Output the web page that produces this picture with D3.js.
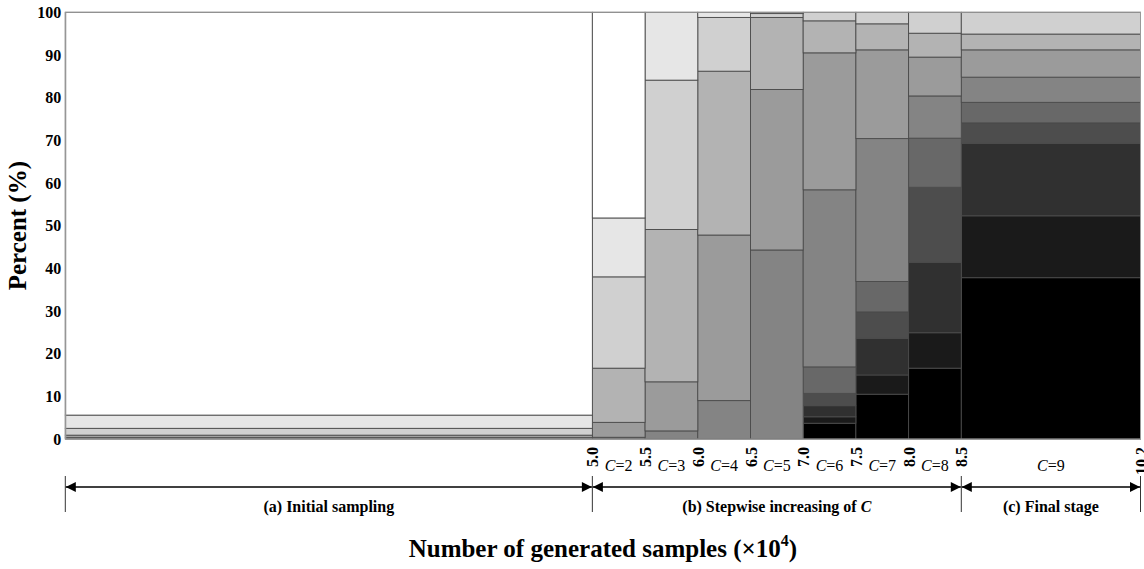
<!DOCTYPE html>
<html>
<head>
<meta charset="utf-8">
<script src="https://cdn.jsdelivr.net/npm/d3@7"></script>
<style>
  body { margin: 0; background: #fff; }
  text { font-family: "Liberation Serif", "Times New Roman", serif; }
</style>
</head>
<body>
<svg id="chart" width="1144" height="569"></svg>
<script>
// bins along x (in 10^4 generated samples)
const binStart = [0, 5.0, 5.5, 6.0, 6.5, 7.0, 7.5, 8.0, 8.5];
const binEnd   = [5.0, 5.5, 6.0, 6.5, 7.0, 7.5, 8.0, 8.5, 10.2];
const binC     = ["", "2", "3", "4", "5", "6", "7", "8", "9"];

const xTicks = [5.0, 5.5, 6.0, 6.5, 7.0, 7.5, 8.0, 8.5, 10.2];
const yTicks = [0, 10, 20, 30, 40, 50, 60, 70, 80, 90, 100];

// percent share of each grey level per bin (level0 = white ... level10 = black)
const level0  = [94.4, 48.2,  0,    0,    0,    0,    0,    0,    0];
const level1  = [3.1,  13.8, 15.9,  1.2,  0.3,  0,    0,    0,    0];
const level2  = [1.6,  21.4, 35.0, 12.6,  0.9,  2.0,  2.7,  4.9,  5.1];
const level3  = [0.5,  12.7, 35.7, 38.4, 16.9,  7.5,  6.1,  5.6,  3.7];
const level4  = [0.4,   3.5, 11.5, 38.8, 37.6, 32.1, 20.8,  9.1,  6.4];
const level5  = [0,     0.4,  1.9,  9.0, 44.3, 41.5, 33.5,  9.9,  5.9];
const level6  = [0,     0,    0,    0,    0,    6.2,  7.1, 11.5,  4.8];
const level7  = [0,     0,    0,    0,    0,    2.9,  6.2, 17.6,  4.8];
const level8  = [0,     0,    0,    0,    0,    2.6,  8.6, 16.5, 17.0];
const level9  = [0,     0,    0,    0,    0,    1.5,  4.5,  8.3, 14.5];
const level10 = [0,     0,    0,    0,    0,    3.7, 10.5, 16.6, 37.8];

const stageEdges = [0, 5.0, 8.5, 10.2];
const stageText  = ["(a) Initial sampling", "(b) Stepwise increasing of ", "(c) Final stage"];

const levels = [level0, level1, level2, level3, level4, level5, level6, level7, level8, level9, level10];
const keys = levels.map((d, i) => "l" + i);

const rows = binStart.map((s, j) => {
  const r = { start: s, end: binEnd[j] };
  levels.forEach((arr, i) => { r["l" + i] = arr[j]; });
  return r;
});

const FONT = "Liberation Serif, Times New Roman, serif";
const svg = d3.select("#chart").attr("font-family", FONT);
const margin = { top: 12.3, left: 65.3, right: 3.5, bottom: 130 };
const width = 1144, height = 569;

const x = d3.scaleLinear().domain([0, 10.2]).range([margin.left, width - margin.right]);
const y = d3.scaleLinear().domain([0, 100]).range([439, margin.top]);

const grey = d3.scaleOrdinal()
  .domain(keys)
  .range(["#ffffff", "#e6e6e6", "#d0d0d0", "#b3b3b3", "#9b9b9b", "#848484",
          "#686868", "#4d4d4d", "#303030", "#1a1a1a", "#000000"]);

// darkest level at the bottom
const stack = d3.stack().keys(keys.slice().reverse());
const series = stack(rows);

svg.append("g")
  .selectAll("g")
  .data(series)
  .join("g")
    .attr("fill", d => grey(d.key))
  .selectAll("rect")
  .data(d => d.filter(p => p[1] - p[0] > 0))
  .join("rect")
    .attr("x", d => x(d.data.start))
    .attr("width", d => x(d.data.end) - x(d.data.start))
    .attr("y", d => y(d[1]))
    .attr("height", d => y(d[0]) - y(d[1]))
    .attr("stroke", "#4a4a4a")
    .attr("stroke-width", 0.9);

// frame
svg.append("rect")
  .attr("x", x(0)).attr("y", y(100))
  .attr("width", x(10.2) - x(0)).attr("height", y(0) - y(100))
  .attr("fill", "none").attr("stroke", "#999").attr("stroke-width", 1);

// y axis
const yAxis = svg.append("g")
  .attr("transform", `translate(${x(0)},0)`)
  .call(d3.axisLeft(y).tickValues(yTicks).tickSize(0).tickPadding(4));
yAxis.select(".domain").attr("stroke", "#999");
yAxis.selectAll("text")
  .attr("font-size", 16).attr("font-weight", "bold").attr("fill", "#000");

// x axis
const xAxis = svg.append("g")
  .attr("transform", `translate(0,${y(0)})`)
  .call(d3.axisBottom(x).tickValues(xTicks).tickSize(0).tickFormat(d3.format(".1f")));
xAxis.select(".domain").attr("stroke", "#999");
xAxis.selectAll("text")
  .attr("transform", "rotate(-90)")
  .attr("x", -8).attr("y", 0).attr("dy", "0.35em")
  .attr("text-anchor", "end")
  .attr("font-size", 16).attr("font-weight", "bold").attr("fill", "#000");

// C labels for each bin
const cLab = svg.append("g")
  .selectAll("text")
  .data(rows.filter((d, j) => binC[j] !== "").map((d, j) => ({ d, c: binC[j + 1] })))
  .join("text")
    .attr("x", o => x((o.d.start + o.d.end) / 2))
    .attr("y", 471)
    .attr("text-anchor", "middle")
    .attr("font-size", 16);
cLab.append("tspan").attr("font-style", "italic").text("C");
cLab.append("tspan").text(o => "=" + o.c);

// stage arrows
const defs = svg.append("defs");
defs.append("marker")
  .attr("id", "head").attr("viewBox", "0 0 10 10")
  .attr("refX", 10).attr("refY", 5)
  .attr("markerUnits", "userSpaceOnUse")
  .attr("markerWidth", 12).attr("markerHeight", 10)
  .attr("orient", "auto-start-reverse")
  .append("path").attr("d", "M0,0 L10,5 L0,10 Z").attr("fill", "#000");

const ann = svg.append("g");
ann.selectAll("line.sep")
  .data(stageEdges)
  .join("line")
    .attr("class", "sep")
    .attr("x1", d => x(d)).attr("x2", d => x(d))
    .attr("y1", 476).attr("y2", 512)
    .attr("stroke", "#000").attr("stroke-width", 0.8);

ann.selectAll("line.arr")
  .data(d3.pairs(stageEdges))
  .join("line")
    .attr("class", "arr")
    .attr("x1", d => x(d[0]) + 0.5).attr("x2", d => x(d[1]) - 0.5)
    .attr("y1", 487).attr("y2", 487)
    .attr("stroke", "#000").attr("stroke-width", 1.3)
    .attr("marker-start", "url(#head)").attr("marker-end", "url(#head)");

const sLab = ann.selectAll("text")
  .data(d3.pairs(stageEdges).map((p, i) => ({ p, t: stageText[i], i })))
  .join("text")
    .attr("x", o => x((o.p[0] + o.p[1]) / 2))
    .attr("y", 512)
    .attr("text-anchor", "middle")
    .attr("font-size", 16).attr("font-weight", "bold");
sLab.append("tspan").text(o => o.t);
sLab.filter(o => o.i === 1).append("tspan").attr("font-style", "italic").text("C");

// axis titles
svg.append("text")
  .attr("transform", `translate(26,${(y(0) + y(100)) / 2}) rotate(-90)`)
  .attr("text-anchor", "middle")
  .attr("font-size", 25).attr("font-weight", "bold")
  .text("Percent (%)");

const xt = svg.append("text")
  .attr("x", (x(0) + x(10.2)) / 2).attr("y", 557)
  .attr("text-anchor", "middle")
  .attr("font-size", 25).attr("font-weight", "bold");
xt.append("tspan").text("Number of generated samples (\u00d710");
xt.append("tspan").attr("font-size", 16).attr("dy", -11).text("4");
xt.append("tspan").attr("dy", 11).text(")");

svg.selectAll("text").attr("font-family", FONT);
</script>
</body>
</html>
